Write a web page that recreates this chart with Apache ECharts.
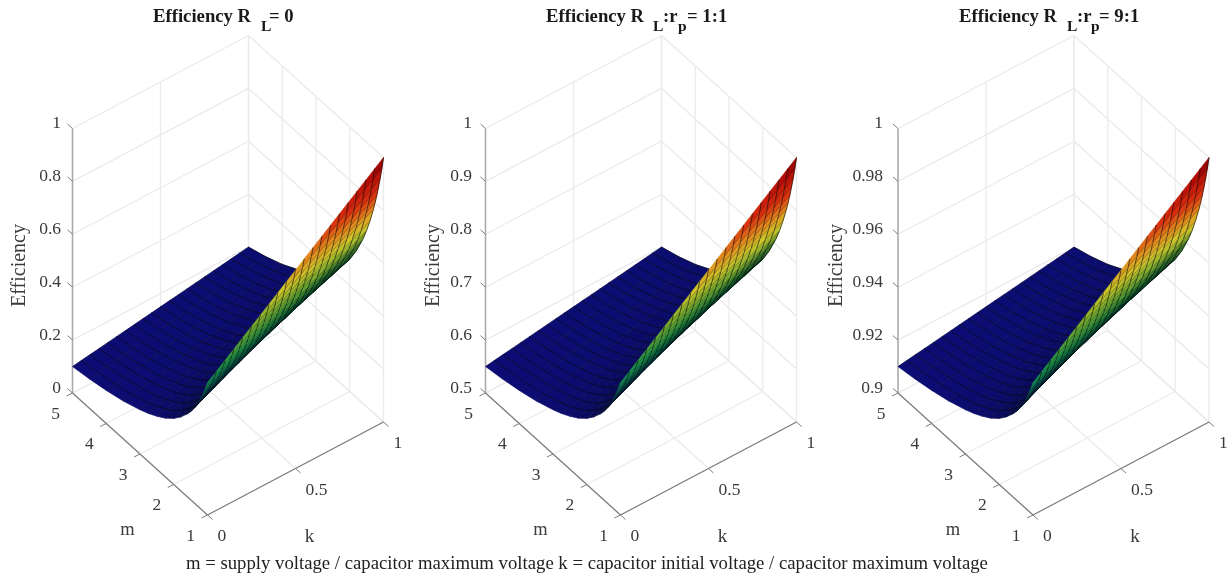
<!DOCTYPE html>
<html><head><meta charset="utf-8">
<style>html,body{margin:0;padding:0;background:#fff}#c{width:1231px;height:575px}</style>
<script src="https://cdn.jsdelivr.net/npm/echarts@6/dist/echarts.min.js"></script>
</head><body><div id="c"></div>
<script>
var kValues=[0,0.05,0.1,0.15,0.2,0.25,0.3,0.35,0.4,0.45,0.5,0.55,0.6,0.65,0.7,0.75,0.8,0.85,0.9,0.95,1];
var mValues=[5,4.5,4,3.5,3,2.75,2.5,2.25,2,1.8,1.6,1.5,1.4,1.3,1.25,1.2,1.15,1.1,1.05,1];
var effA=[
[.1,.105,.11,.115,.12,.125,.13,.135,.14,.145,.15,.155,.16,.165,.17,.175,.18,.185,.19,.195,.2],
[.111,.117,.122,.128,.133,.139,.144,.15,.156,.161,.167,.172,.178,.183,.189,.194,.2,.206,.211,.217,.222],
[.125,.131,.138,.144,.15,.156,.163,.169,.175,.181,.188,.194,.2,.206,.213,.219,.225,.231,.238,.244,.25],
[.143,.15,.157,.164,.171,.179,.186,.193,.2,.207,.214,.221,.229,.236,.243,.25,.257,.264,.271,.279,.286],
[.167,.175,.183,.192,.2,.208,.217,.225,.233,.242,.25,.258,.267,.275,.283,.292,.3,.308,.317,.325,.333],
[.182,.191,.2,.209,.218,.227,.236,.245,.255,.264,.273,.282,.291,.3,.309,.318,.327,.336,.345,.355,.364],
[.2,.21,.22,.23,.24,.25,.26,.27,.28,.29,.3,.31,.32,.33,.34,.35,.36,.37,.38,.39,.4],
[.222,.233,.244,.256,.267,.278,.289,.3,.311,.322,.333,.344,.356,.367,.378,.389,.4,.411,.422,.433,.444],
[.25,.263,.275,.288,.3,.313,.325,.338,.35,.363,.375,.388,.4,.413,.425,.438,.45,.463,.475,.488,.5],
[.278,.292,.306,.319,.333,.347,.361,.375,.389,.403,.417,.431,.444,.458,.472,.486,.5,.514,.528,.542,.556],
[.313,.328,.344,.359,.375,.391,.406,.422,.438,.453,.469,.484,.5,.516,.531,.547,.563,.578,.594,.609,.625],
[.333,.35,.367,.383,.4,.417,.433,.45,.467,.483,.5,.517,.533,.55,.567,.583,.6,.617,.633,.65,.667],
[.357,.375,.393,.411,.429,.446,.464,.482,.5,.518,.536,.554,.571,.589,.607,.625,.643,.661,.679,.696,.714],
[.385,.404,.423,.442,.462,.481,.5,.519,.538,.558,.577,.596,.615,.635,.654,.673,.692,.712,.731,.75,.769],
[.4,.42,.44,.46,.48,.5,.52,.54,.56,.58,.6,.62,.64,.66,.68,.7,.72,.74,.76,.78,.8],
[.417,.438,.458,.479,.5,.521,.542,.563,.583,.604,.625,.646,.667,.688,.708,.729,.75,.771,.792,.813,.833],
[.435,.457,.478,.5,.522,.543,.565,.587,.609,.63,.652,.674,.696,.717,.739,.761,.783,.804,.826,.848,.87],
[.455,.477,.5,.523,.545,.568,.591,.614,.636,.659,.682,.705,.727,.75,.773,.795,.818,.841,.864,.886,.909],
[.476,.5,.524,.548,.571,.595,.619,.643,.667,.69,.714,.738,.762,.786,.81,.833,.857,.881,.905,.929,.952],
[.5,.525,.55,.575,.6,.625,.65,.675,.7,.725,.75,.775,.8,.825,.85,.875,.9,.925,.95,.975,1]];
var effB=[
[.55,.5525,.555,.5575,.56,.5625,.565,.5675,.57,.5725,.575,.5775,.58,.5825,.585,.5875,.59,.5925,.595,.5975,.6],
[.5555,.5585,.561,.564,.5665,.5695,.572,.575,.578,.5805,.5835,.586,.589,.5915,.5945,.597,.6,.603,.6055,.6085,.611],
[.5625,.5655,.569,.572,.575,.578,.5815,.5845,.5875,.5905,.594,.597,.6,.603,.6065,.6095,.6125,.6155,.619,.622,.625],
[.5715,.575,.5785,.582,.5855,.5895,.593,.5965,.6,.6035,.607,.6105,.6145,.618,.6215,.625,.6285,.632,.6355,.6395,.643],
[.5835,.5875,.5915,.596,.6,.604,.6085,.6125,.6165,.621,.625,.629,.6335,.6375,.6415,.646,.65,.654,.6585,.6625,.6665],
[.591,.5955,.6,.6045,.609,.6135,.618,.6225,.6275,.632,.6365,.641,.6455,.65,.6545,.659,.6635,.668,.6725,.6775,.682],
[.6,.605,.61,.615,.62,.625,.63,.635,.64,.645,.65,.655,.66,.665,.67,.675,.68,.685,.69,.695,.7],
[.611,.6165,.622,.628,.6335,.639,.6445,.65,.6555,.661,.6665,.672,.678,.6835,.689,.6945,.7,.7055,.711,.7165,.722],
[.625,.6315,.6375,.644,.65,.6565,.6625,.669,.675,.6815,.6875,.694,.7,.7065,.7125,.719,.725,.7315,.7375,.744,.75],
[.639,.646,.653,.6595,.6665,.6735,.6805,.6875,.6945,.7015,.7085,.7155,.722,.729,.736,.743,.75,.757,.764,.771,.778],
[.6565,.664,.672,.6795,.6875,.6955,.703,.711,.719,.7265,.7345,.742,.75,.758,.7655,.7735,.7815,.789,.797,.8045,.8125],
[.6665,.675,.6835,.6915,.7,.7085,.7165,.725,.7335,.7415,.75,.7585,.7665,.775,.7835,.7915,.8,.8085,.8165,.825,.8335],
[.6785,.6875,.6965,.7055,.7145,.723,.732,.741,.75,.759,.768,.777,.7855,.7945,.8035,.8125,.8215,.8305,.8395,.848,.857],
[.6925,.702,.7115,.721,.731,.7405,.75,.7595,.769,.779,.7885,.798,.8075,.8175,.827,.8365,.846,.856,.8655,.875,.8845],
[.7,.71,.72,.73,.74,.75,.76,.77,.78,.79,.8,.81,.82,.83,.84,.85,.86,.87,.88,.89,.9],
[.7085,.719,.729,.7395,.75,.7605,.771,.7815,.7915,.802,.8125,.823,.8335,.844,.854,.8645,.875,.8855,.896,.9065,.9165],
[.7175,.7285,.739,.75,.761,.7715,.7825,.7935,.8045,.815,.826,.837,.848,.8585,.8695,.8805,.8915,.902,.913,.924,.935],
[.7275,.7385,.75,.7615,.7725,.784,.7955,.807,.818,.8295,.841,.8525,.8635,.875,.8865,.8975,.909,.9205,.932,.943,.9545],
[.738,.75,.762,.774,.7855,.7975,.8095,.8215,.8335,.845,.857,.869,.881,.893,.905,.9165,.9285,.9405,.9525,.9645,.976],
[.75,.7625,.775,.7875,.8,.8125,.825,.8375,.85,.8625,.875,.8875,.9,.9125,.925,.9375,.95,.9625,.975,.9875,1]];
var effC=[
[.91,.9105,.911,.9115,.912,.9125,.913,.9135,.914,.9145,.915,.9155,.916,.9165,.917,.9175,.918,.9185,.919,.9195,.92],
[.9111,.9117,.9122,.9128,.9133,.9139,.9144,.915,.9156,.9161,.9167,.9172,.9178,.9183,.9189,.9194,.92,.9206,.9211,.9217,.9222],
[.9125,.9131,.9138,.9144,.915,.9156,.9163,.9169,.9175,.9181,.9188,.9194,.92,.9206,.9213,.9219,.9225,.9231,.9238,.9244,.925],
[.9143,.915,.9157,.9164,.9171,.9179,.9186,.9193,.92,.9207,.9214,.9221,.9229,.9236,.9243,.925,.9257,.9264,.9271,.9279,.9286],
[.9167,.9175,.9183,.9192,.92,.9208,.9217,.9225,.9233,.9242,.925,.9258,.9267,.9275,.9283,.9292,.93,.9308,.9317,.9325,.9333],
[.9182,.9191,.92,.9209,.9218,.9227,.9236,.9245,.9255,.9264,.9273,.9282,.9291,.93,.9309,.9318,.9327,.9336,.9345,.9355,.9364],
[.92,.921,.922,.923,.924,.925,.926,.927,.928,.929,.93,.931,.932,.933,.934,.935,.936,.937,.938,.939,.94],
[.9222,.9233,.9244,.9256,.9267,.9278,.9289,.93,.9311,.9322,.9333,.9344,.9356,.9367,.9378,.9389,.94,.9411,.9422,.9433,.9444],
[.925,.9263,.9275,.9288,.93,.9313,.9325,.9338,.935,.9363,.9375,.9388,.94,.9413,.9425,.9438,.945,.9463,.9475,.9488,.95],
[.9278,.9292,.9306,.9319,.9333,.9347,.9361,.9375,.9389,.9403,.9417,.9431,.9444,.9458,.9472,.9486,.95,.9514,.9528,.9542,.9556],
[.9313,.9328,.9344,.9359,.9375,.9391,.9406,.9422,.9438,.9453,.9469,.9484,.95,.9516,.9531,.9547,.9563,.9578,.9594,.9609,.9625],
[.9333,.935,.9367,.9383,.94,.9417,.9433,.945,.9467,.9483,.95,.9517,.9533,.955,.9567,.9583,.96,.9617,.9633,.965,.9667],
[.9357,.9375,.9393,.9411,.9429,.9446,.9464,.9482,.95,.9518,.9536,.9554,.9571,.9589,.9607,.9625,.9643,.9661,.9679,.9696,.9714],
[.9385,.9404,.9423,.9442,.9462,.9481,.95,.9519,.9538,.9558,.9577,.9596,.9615,.9635,.9654,.9673,.9692,.9712,.9731,.975,.9769],
[.94,.942,.944,.946,.948,.95,.952,.954,.956,.958,.96,.962,.964,.966,.968,.97,.972,.974,.976,.978,.98],
[.9417,.9438,.9458,.9479,.95,.9521,.9542,.9563,.9583,.9604,.9625,.9646,.9667,.9688,.9708,.9729,.975,.9771,.9792,.9813,.9833],
[.9435,.9457,.9478,.95,.9522,.9543,.9565,.9587,.9609,.963,.9652,.9674,.9696,.9717,.9739,.9761,.9783,.9804,.9826,.9848,.987],
[.9455,.9477,.95,.9523,.9545,.9568,.9591,.9614,.9636,.9659,.9682,.9705,.9727,.975,.9773,.9795,.9818,.9841,.9864,.9886,.9909],
[.9476,.95,.9524,.9548,.9571,.9595,.9619,.9643,.9667,.969,.9714,.9738,.9762,.9786,.981,.9833,.9857,.9881,.9905,.9929,.9952],
[.95,.9525,.955,.9575,.96,.9625,.965,.9675,.97,.9725,.975,.9775,.98,.9825,.985,.9875,.99,.9925,.995,.9975,1]];
var zTicksA=[0,0.2,0.4,0.6,0.8,1], zTicksB=[0.5,0.6,0.7,0.8,0.9,1], zTicksC=[0.9,0.92,0.94,0.96,0.98,1];
var mTicks=[5,4,3,2,1], kTicks=[0,0.5,1];

var panels=[
 {eff:effA,zTicks:zTicksA,zLabels:['0','0.2','0.4','0.6','0.8','1'],zr:[0,1],x:72.5,gap:11.5,yl:10,title:[['Efficiency R',153,0],['L',261,1],['= 0',269,0]]},
 {eff:effB,zTicks:zTicksB,zLabels:['0.5','0.6','0.7','0.8','0.9','1'],zr:[0.5,1],x:485.5,gap:13.5,yl:424,title:[['Efficiency R',546,0],['L',653,1],[':r',663,0],['p',678,1],['= 1:1',687,0]]},
 {eff:effC,zTicks:zTicksC,zLabels:['0.9','0.92','0.94','0.96','0.98','1'],zr:[0.9,1],x:898,gap:15,yl:827,title:[['Efficiency R',959,0],['L',1067,1],[':r',1077,0],['p',1091,1],['= 9:1',1099,0]]}
];
var BOX={top:36,w:311,h:479,mx:135,my:122,kx:176,ky:-93,zy:-264.5,y0:357};
var SERIF='"Liberation Serif","Times New Roman",serif', TXT='#3a3a3a';
var STOPS=[[0,[14,14,135]],[.2,[16,18,150]],[.3,[10,50,155]],[.38,[10,120,120]],[.47,[30,160,80]],[.58,[130,185,50]],[.66,[225,215,45]],[.74,[245,150,30]],[.83,[235,50,15]],[.94,[190,10,5]],[1,[130,0,0]]];
function colorAt(t,s){
  t=Math.max(0,Math.min(1,t));
  for(var i=1;i<STOPS.length;i++){ if(t<=STOPS[i][0]){
    var a=STOPS[i-1],b=STOPS[i],f=(t-a[0])/(b[0]-a[0]);
    return 'rgb('+[0,1,2].map(function(c){return Math.round((a[1][c]+(b[1][c]-a[1][c])*f)*s);}).join(',')+')';
  }}
}
function project(k,m,zn){
  var mf=(5-m)/4;
  return [(mf*BOX.mx+k*BOX.kx)/BOX.w, 1-(BOX.y0+mf*BOX.my+k*BOX.ky+zn*BOX.zy)/BOX.h];
}
function surfaceSeries(p,idx){
  var data=[];
  for(var mi=0;mi<mValues.length-1;mi++) for(var ki=kValues.length-2;ki>=0;ki--) data.push([ki,mi]);
  var zn=function(v){return (v-p.zr[0])/(p.zr[1]-p.zr[0]);};
  return {type:'custom',coordinateSystem:'cartesian2d',xAxisIndex:idx,yAxisIndex:idx,silent:true,animation:false,clip:false,data:data,
    encode:{x:0,y:1},
    renderItem:function(params,api){
      var ki=api.value(0),mi=api.value(1);
      var c=[[ki,mi],[ki+1,mi],[ki+1,mi+1],[ki,mi+1]];
      var zs=c.map(function(q){return zn(p.eff[q[1]][q[0]]);});
      var pts=c.map(function(q,i){return api.coord(project(kValues[q[0]],mValues[q[1]],zs[i]));});
      var fl=c.map(function(q){return api.coord(project(kValues[q[0]],mValues[q[1]],0));});
      var area=function(P){return ((P[2][0]-P[0][0])*(P[3][1]-P[1][1])-(P[3][0]-P[1][0])*(P[2][1]-P[0][1]))/2;};
      var r=Math.abs(area(pts)/area(fl));
      var s=0.3+0.62*Math.min(1,r/1.1);
      var raw=(p.eff[c[0][1]][c[0][0]]+p.eff[c[1][1]][c[1][0]]+p.eff[c[2][1]][c[2][0]]+p.eff[c[3][1]][c[3][0]])/4;
      var lo=p.eff[0][0],hi=p.eff[mValues.length-1][kValues.length-1];
      var col=colorAt((raw-lo)/(hi-lo),s);
      return {type:'group',children:[
        {type:'polygon',shape:{points:pts},style:{fill:col,stroke:col,lineWidth:0.6}},
        {type:'line',shape:{x1:pts[1][0],y1:pts[1][1],x2:pts[2][0],y2:pts[2][1]},style:{stroke:'rgba(0,0,0,0.6)',lineWidth:1}},
        {type:'line',shape:{x1:pts[0][0],y1:pts[0][1],x2:pts[1][0],y2:pts[1][1]},style:{stroke:'rgba(0,0,0,0.35)',lineWidth:0.7}}
      ]};
    }};
}
function boxSeries(p,idx){
  return {type:'custom',coordinateSystem:'cartesian2d',xAxisIndex:idx,yAxisIndex:idx,silent:true,animation:false,clip:false,z:1,data:[[0,0]],encode:{x:0,y:1},
    renderItem:function(params,api){
      var P=function(k,m,z){return api.coord(project(k,m,(z-p.zr[0])/(p.zr[1]-p.zr[0])));};
      var ch=[],zb=p.zr[0],zt=p.zr[1];
      var L=function(a,b,col,w){ch.push({type:'line',shape:{x1:a[0],y1:a[1],x2:b[0],y2:b[1]},style:{stroke:col,lineWidth:w}});};
      var G='#ebebeb',A='#7d7d7d';
      p.zTicks.forEach(function(z){L(P(0,5,z),P(1,5,z),G,1.3);L(P(1,5,z),P(1,1,z),G,1.3);});
      kTicks.forEach(function(k){L(P(k,5,zb),P(k,5,zt),G,1.3);L(P(k,5,zb),P(k,1,zb),G,1.3);});
      mTicks.forEach(function(m){L(P(1,m,zb),P(1,m,zt),G,1.3);L(P(0,m,zb),P(1,m,zb),G,1.3);});
      L(P(0,5,zb),P(0,5,zt),'#a8a8a8',1.5);L(P(0,5,zb),P(0,1,zb),A,1.2);L(P(0,1,zb),P(1,1,zb),A,1.2);
      var T=function(text,x,y,align,size){ch.push({type:'text',style:{text:text,x:x,y:y,align:align,verticalAlign:'middle',fill:TXT,font:(size||17.5)+'px '+SERIF}});};
      p.zTicks.forEach(function(z,i){var a=P(0,5,z);L(a,[a[0]-5,a[1]-4.5],A,1);T(p.zLabels[i],a[0]-p.gap,a[1]-5,'right');});
      mTicks.forEach(function(m){var a=P(0,m,zb);L(a,[a[0]-6,a[1]+3],A,1);T(String(m),a[0]-17,a[1]+21,'center');});
      kTicks.forEach(function(k){var a=P(k,1,zb);L(a,[a[0]+5,a[1]+4.5],A,1);T(String(k),a[0]+10,a[1]+21.5,'left');});
      var o=P(0,1,zb);
      T('m',o[0]-80,o[1]+15.5,'center',18.5);
      T('k',o[0]+102,o[1]+22,'center',19);
      return {type:'group',children:ch};
    }};
}
var grids=[],xA=[],yA=[],series=[],gfx=[];
panels.forEach(function(p,i){
  grids.push({left:p.x,top:BOX.top,width:BOX.w,height:BOX.h,containLabel:false,show:false});
  xA.push({type:'value',gridIndex:i,min:0,max:1,show:false});
  yA.push({type:'value',gridIndex:i,min:0,max:1,show:false});
  series.push(boxSeries(p,i));
  var s=surfaceSeries(p,i); s.z=2; series.push(s);
  p.title.forEach(function(t){
    gfx.push({type:'text',left:t[1],top:t[2]?19:8,silent:true,style:{text:t[0],fill:'#1a1a1a',font:'bold '+(t[2]?15.5:18.7)+'px '+SERIF}});
  });
  gfx.push({type:'text',left:p.yl,top:224,rotation:Math.PI/2,silent:true,style:{text:'Efficiency',fill:TXT,font:'20px '+SERIF,align:'center',verticalAlign:'middle'}});
});
gfx.push({type:'text',left:186,top:555,silent:true,style:{text:'m = supply voltage / capacitor maximum voltage k = capacitor initial voltage / capacitor maximum voltage',fill:'#222',font:'18.73px '+SERIF}});
var chart=echarts.init(document.getElementById('c'),null,{renderer:'canvas'});
chart.setOption({animation:false,backgroundColor:'#fff',tooltip:{show:false},grid:grids,xAxis:xA,yAxis:yA,series:series,graphic:{elements:gfx}});
</script></body></html>
